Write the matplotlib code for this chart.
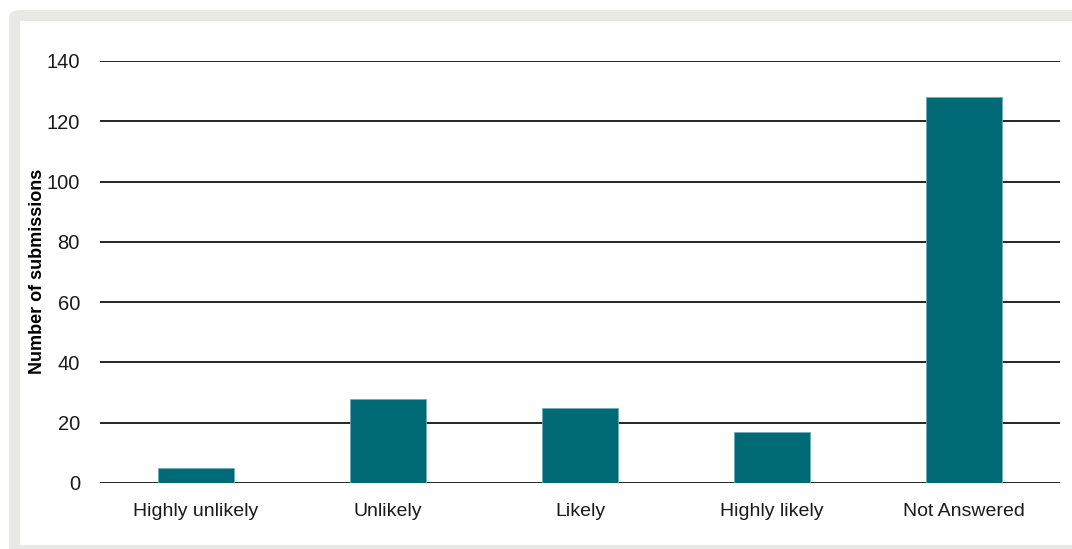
import matplotlib
matplotlib.use("Agg")
import matplotlib.pyplot as plt
from matplotlib.patches import FancyBboxPatch, Rectangle

categories = ["Highly unlikely", "Unlikely", "Likely", "Highly likely", "Not Answered"]
values = [5, 28, 25, 17, 128]
yticks = [0, 20, 40, 60, 80, 100, 120, 140]

W, H = 1072, 549
fig = plt.figure(figsize=(W / 100, H / 100), dpi=100)
fig.patch.set_facecolor("white")

# grey frame
frame = FancyBboxPatch((9 / W, -0.2), 1.2, (H - 10) / H + 0.2,
                       boxstyle="round,pad=0,rounding_size=0.012",
                       transform=fig.transFigure, facecolor="#E8E8E4",
                       edgecolor="none", zorder=-2)
fig.patches.append(frame)
inner = Rectangle((20 / W, 4 / H), 1.0, (H - 21 - 4) / H,
                  transform=fig.transFigure, facecolor="white",
                  edgecolor="none", zorder=-1)
fig.patches.append(inner)

ax = fig.add_axes([100 / W, (H - 483) / H, 960 / W, (483 - 61) / H])
ax.set_facecolor("none")
x = list(range(len(categories)))
ax.bar(x, values, width=0.4, color="#006B77", edgecolor="#6FAFB5",
       linewidth=0.6, zorder=3)
ax.set_xlim(-0.5, 4.5)
ax.set_ylim(0, 140)
ax.set_yticks(yticks)
ax.set_xticks(x)
ax.set_xticklabels(categories, fontsize=14, family="Liberation Sans",
                   color="#1a1a1a")
ax.set_yticklabels([str(v) for v in yticks], fontsize=14.5,
                   family="Liberation Sans", color="#1a1a1a")
ax.tick_params(axis="both", length=0)
ax.tick_params(axis="y", pad=14.4)
ax.tick_params(axis="x", pad=14.5)
ax.grid(axis="y", color="black", linewidth=1.2, zorder=1)
ax.set_axisbelow(True)
for s in ax.spines.values():
    s.set_visible(False)

fig.text(38 / W, 1 - 271 / H, "Number of submissions", rotation=90,
         ha="center", va="center", fontsize=13, fontweight="bold",
         family="Liberation Sans", color="black")

fig.savefig("out.png", dpi=100)
